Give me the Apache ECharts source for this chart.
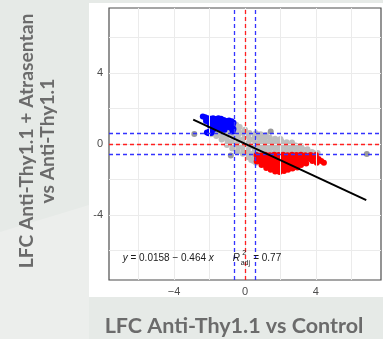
<!DOCTYPE html>
<html>
<head>
<meta charset="utf-8">
<script src="https://cdn.jsdelivr.net/npm/echarts@6/dist/echarts.min.js"></script>
<style>
html,body{margin:0;padding:0;background:#e6eae7;}
#chart{width:383px;height:339px;}
</style>
</head>
<body>
<div id="chart"></div>
<script>
// Axis setup
const xRange = [-7.67, 7.67];
const yRange = [-7.65, 7.65];
const xTicks = [-4, 0, 4];
const yTicks = [-4, 0, 4];
const gridLines = [-6, -4, -2, 0, 2, 4, 6];
const fcCut = 0.585;            // log2(1.5) threshold lines
const xTitle = 'LFC Anti-Thy1.1 vs Control';
const yTitle = 'LFC Anti-Thy1.1 + Atrasentan\nvs Anti-Thy1.1';

// Linear fit
const fitIntercept = 0.0158;
const fitSlope = -0.464;
const fitR2adj = 0.77;
const fitXRange = [-2.92, 6.84];

// Genes not significant in both contrasts
const grayPts = [
  [-1.92,0.55],[-1.85,0.62],
  [-1.62,0.45],[-1.58,0.62],[-1.65,0.75],
  [-1.32,0.25],[-1.28,0.42],[-1.35,0.58],[-1.25,0.72],
  [-1.02,-0.05],[-0.98,0.15],[-1.05,0.32],[-0.95,0.5],[-1.0,0.68],[-0.92,0.82],
  [-0.72,-0.25],[-0.68,-0.05],[-0.75,0.15],[-0.65,0.35],[-0.7,0.55],[-0.62,0.72],[-0.55,0.9],[-0.5,1.08],
  [-0.42,-0.42],[-0.38,-0.2],[-0.45,0.0],[-0.35,0.2],[-0.4,0.4],[-0.32,0.6],[-0.38,0.8],[-0.3,0.95],
  [-0.12,-0.55],[-0.08,-0.35],[-0.15,-0.15],[-0.05,0.05],[-0.1,0.25],[-0.02,0.45],[-0.08,0.65],[0.0,0.8],
  [0.18,-0.75],[0.22,-0.55],[0.15,-0.35],[0.25,-0.15],[0.2,0.05],[0.28,0.25],[0.18,0.45],[0.25,0.62],
  [0.48,-0.95],[0.52,-0.75],[0.45,-0.55],[0.55,-0.35],[0.5,-0.15],[0.58,0.05],[0.48,0.25],[0.55,0.45],[0.62,0.6],
  [0.35,-0.9],[0.62,-1.05],
  [0.75,-0.45],[0.82,-0.25],[0.78,-0.05],[0.85,0.15],[0.8,0.35],[0.88,0.55],
  [1.08,-0.48],[1.12,-0.28],[1.05,-0.08],[1.15,0.12],[1.1,0.32],[1.18,0.5],
  [1.38,-0.45],[1.42,-0.25],[1.35,-0.05],[1.45,0.15],[1.4,0.35],
  [1.68,-0.48],[1.72,-0.28],[1.65,-0.08],[1.75,0.12],[1.7,0.3],
  [1.98,-0.45],[2.02,-0.25],[1.95,-0.05],[2.05,0.15],[2.0,0.28],
  [2.28,-0.48],[2.32,-0.28],[2.25,-0.08],[2.35,0.1],
  [2.58,-0.45],[2.62,-0.25],[2.55,-0.05],[2.65,0.08],
  [2.88,-0.48],[2.92,-0.28],[2.85,-0.08],
  [3.18,-0.45],[3.22,-0.25],[3.15,-0.1],
  [3.48,-0.48],[3.52,-0.3],
  [3.78,-0.45],[3.85,-0.5],[4.1,-0.5]
];

// Isolated genes
const darkPts = [[-2.86,0.56],[1.45,0.71],[-0.8,-0.64],[6.87,-0.56]];

// Up in Atrasentan contrast, down vs control
const bluePts = [
  [-2.38,1.55],[-2.25,1.5],[-2.1,1.45],[-1.95,1.42],[-1.8,1.45],[-1.65,1.4],[-1.5,1.45],[-1.35,1.42],[-1.2,1.35],[-1.05,1.3],[-0.9,1.32],[-0.75,1.28],[-0.65,1.2],
  [-2.2,1.3],[-2.05,1.25],[-1.9,1.2],[-1.75,1.25],[-1.6,1.2],[-1.45,1.25],[-1.3,1.2],[-1.15,1.15],[-1.0,1.1],[-0.85,1.1],[-0.7,1.05],
  [-2.0,1.05],[-1.85,1.0],[-1.7,1.05],[-1.55,1.0],[-1.4,1.05],[-1.25,1.0],[-1.1,0.95],[-0.95,0.95],[-0.8,0.9],[-0.65,0.85],
  [-1.75,0.85],[-1.6,0.9],[-1.45,0.88],[-1.3,0.85],[-1.15,0.8],[-0.7,0.7],
  [-2.15,0.65],[-2.0,0.72],[-1.9,0.62],[-1.85,0.75],[-2.05,0.6]
];

// Down in Atrasentan contrast, up vs control
const redPts = [
  [0.65,-0.62],[0.68,-0.8],[0.66,-0.98],
  [0.9,-0.65],[0.92,-0.82],[0.88,-1.0],[0.93,-1.18],
  [1.15,-0.6],[1.17,-0.8],[1.13,-1.0],[1.16,-1.2],[1.2,-1.35],
  [1.4,-0.63],[1.42,-0.83],[1.38,-1.03],[1.41,-1.23],[1.45,-1.45],
  [1.65,-0.6],[1.67,-0.8],[1.63,-1.0],[1.66,-1.2],[1.68,-1.4],[1.7,-1.55],
  [1.9,-0.62],[1.92,-0.82],[1.88,-1.02],[1.91,-1.22],[1.93,-1.42],[1.95,-1.58],
  [2.15,-0.6],[2.17,-0.8],[2.13,-1.0],[2.16,-1.2],[2.18,-1.4],[2.2,-1.52],
  [2.4,-0.63],[2.42,-0.83],[2.38,-1.03],[2.41,-1.23],[2.43,-1.45],
  [2.65,-0.6],[2.67,-0.8],[2.63,-1.0],[2.66,-1.2],[2.68,-1.38],
  [2.9,-0.62],[2.92,-0.82],[2.88,-1.02],[2.91,-1.22],[2.95,-1.32],
  [3.15,-0.6],[3.17,-0.8],[3.13,-1.0],[3.16,-1.18],
  [3.4,-0.63],[3.42,-0.83],[3.38,-1.03],[3.45,-1.1],
  [3.7,-0.62],[3.9,-0.75],[4.0,-0.62],[4.15,-0.85],[4.3,-0.95],[4.45,-1.05],[3.8,-0.95],[4.05,-1.05],[3.65,-0.85]
];

const fitLine = fitXRange.map(x => [x, fitIntercept + fitSlope * x]);

const chart = echarts.init(document.getElementById('chart'), null, {renderer: 'canvas'});

const dash = (color, key, v) => ({[key]: v, lineStyle: {color: color, type: [4, 3], width: 1.3}});
const ptSize = 6;

const baseGraphics = [
  {type: 'polygon', z: -101, silent: true, shape: {points: [[0, 232], [89, 205], [89, 339], [0, 339]]}, style: {fill: '#eceeec'}},
  {type: 'rect', z: -100, shape: {x: 89, y: 3, width: 294, height: 294}, style: {fill: '#ffffff'}, silent: true},
  {type: 'text', x: 234, y: 326, style: {text: xTitle, align: 'center', verticalAlign: 'middle',
    fontFamily: 'Lato', fontWeight: 'bold', fontSize: 21.5, fill: '#6b6b6b'}},
  {type: 'text', x: 37.5, y: 141, rotation: Math.PI / 2, style: {text: yTitle, align: 'center', verticalAlign: 'middle',
    fontFamily: 'Lato', fontWeight: 'bold', fontSize: 19.3, lineHeight: 21, fill: '#6b6b6b'}}
];

const option = {
  animation: false,
  backgroundColor: '#e6eae7',
  grid: {left: 109, right: 2, top: 8, bottom: 59, show: true, backgroundColor: '#ffffff', borderColor: '#4d4d4d', borderWidth: 1.2},
  xAxis: {
    type: 'value', min: xRange[0], max: xRange[1],
    axisLine: {show: false},
    splitLine: {show: false},
    axisTick: {show: true, customValues: xTicks, length: 3, lineStyle: {color: '#333'}},
    axisLabel: {customValues: xTicks, margin: 6, color: '#4d4d4d', fontSize: 11, fontFamily: 'Liberation Sans',
      formatter: v => (v < 0 ? '\u2212' + Math.abs(v) : String(v))}
  },
  yAxis: {
    type: 'value', min: yRange[0], max: yRange[1],
    axisLine: {show: false},
    splitLine: {show: false},
    axisTick: {show: true, customValues: yTicks, length: 3, lineStyle: {color: '#333'}},
    axisLabel: {customValues: yTicks, margin: 6, color: '#4d4d4d', fontSize: 11, fontFamily: 'Liberation Sans',
      formatter: v => String(v)}
  },
  graphic: baseGraphics,
  series: [
    {
      type: 'line', data: [], z: 1, silent: true,
      markLine: {silent: true, symbol: 'none', label: {show: false}, animation: false,
        lineStyle: {color: '#ebebeb', type: 'solid', width: 1},
        data: gridLines.map(v => ({xAxis: v})).concat(gridLines.map(v => ({yAxis: v})))}
    },
    {type: 'scatter', data: grayPts, symbolSize: ptSize, z: 3, itemStyle: {color: '#bebebe', opacity: 1}},
    {type: 'scatter', data: darkPts, symbolSize: ptSize, z: 3, itemStyle: {color: '#9a9a9a', opacity: 1}},
    {type: 'scatter', data: bluePts, symbolSize: ptSize, z: 4, itemStyle: {color: '#0000ff', opacity: 1}},
    {type: 'scatter', data: redPts, symbolSize: ptSize, z: 4, itemStyle: {color: '#ff0000', opacity: 1}},
    {
      type: 'line', data: [], z: 5, silent: true,
      markLine: {silent: true, symbol: 'none', label: {show: false}, animation: false,
        data: [
          dash('#3333ff', 'xAxis', -fcCut), dash('#3333ff', 'xAxis', fcCut),
          dash('#3333ff', 'yAxis', -fcCut), dash('#3333ff', 'yAxis', fcCut),
          dash('#ff2020', 'xAxis', 0), dash('#ff2020', 'yAxis', 0)
        ]}
    },
    {type: 'line', data: fitLine, z: 6, symbol: 'none', lineStyle: {color: '#000000', width: 2}}
  ]
};
chart.setOption(option);

// Fit equation placed in data coordinates near the lower-left of the panel
const anchor = chart.convertToPixel({gridIndex: 0}, [-6.9, -6.4]);
const ax = anchor[0], ay = anchor[1];
const eqFont = {fontFamily: 'Liberation Sans', fontSize: 10, fill: '#1a1a1a'};
chart.setOption({
  graphic: baseGraphics.concat([
    {type: 'text', z: 10, x: ax, y: ay, style: Object.assign({
      text: '{i|y} = ' + fitIntercept + ' \u2212 ' + Math.abs(fitSlope) + ' {i|x}',
      rich: {i: {fontStyle: 'italic', fontFamily: 'Liberation Sans', fontSize: 10, fill: '#1a1a1a'}},
      verticalAlign: 'middle'}, eqFont)},
    {type: 'text', z: 10, x: ax + 110, y: ay, style: Object.assign({text: 'R', fontStyle: 'italic', verticalAlign: 'middle'}, eqFont)},
    {type: 'text', z: 10, x: ax + 119.5, y: ay - 5, style: Object.assign({}, eqFont, {text: '2', fontSize: 7, verticalAlign: 'middle'})},
    {type: 'text', z: 10, x: ax + 118, y: ay + 5, style: Object.assign({}, eqFont, {text: 'adj', fontSize: 7, verticalAlign: 'middle'})},
    {type: 'text', z: 10, x: ax + 130.5, y: ay, style: Object.assign({text: '= ' + fitR2adj, verticalAlign: 'middle'}, eqFont)}
  ])
});
</script>
</body>
</html>
